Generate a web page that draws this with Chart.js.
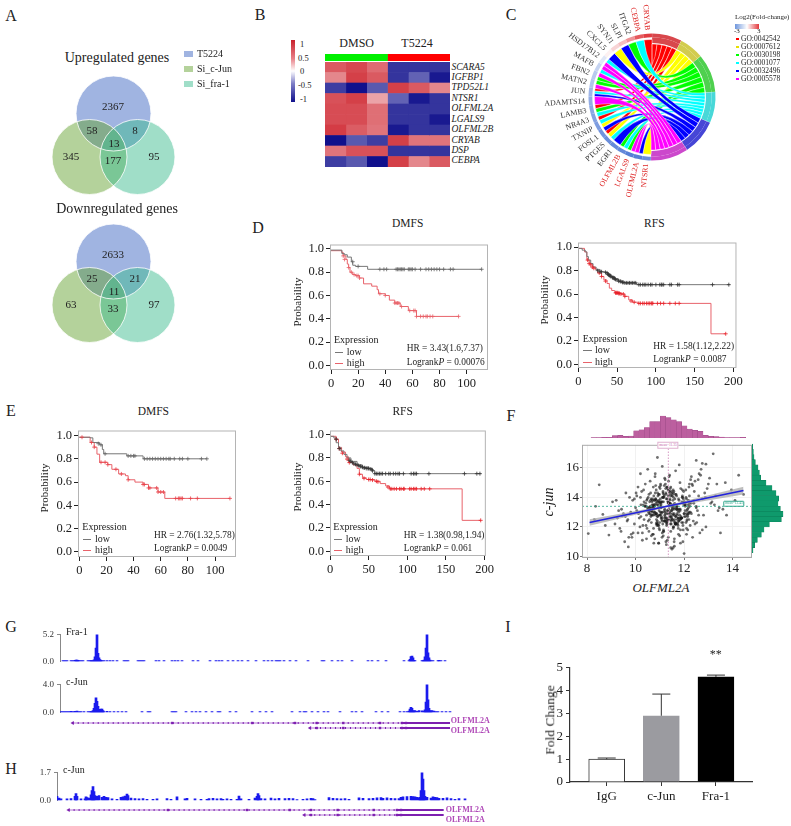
<!DOCTYPE html>
<html>
<head>
<meta charset="utf-8">
<script src="https://cdn.jsdelivr.net/npm/chart.js@4"></script>
<style>
html,body{margin:0;background:#fff}
#page{position:relative;width:791px;height:826px;overflow:hidden;font-family:"Liberation Serif",serif;color:#222}
canvas{position:absolute}
.t{position:absolute;white-space:nowrap;line-height:1}
.s{position:absolute}
</style>
</head>
<body>
<div id="page"></div>
<script>
// A - venn counts
const vennSets = ['T5224', 'Si_c-Jun', 'Si_fra-1'];
const upCounts = [2367, 58, 8, 13, 345, 177, 95];
const downCounts = [2633, 25, 21, 11, 63, 33, 97];

// B - heatmap
const genes = ['SCARA5','IGFBP1','TPD52L1','NTSR1','OLFML2A','LGALS9','OLFML2B','CRYAB','DSP','CEBPA'];
const heatCols = [
  [.8,.55,-.9,.85,.88,.88,.97,-1.15,.65,-.9],
  [.9,.95,-1.15,.95,.88,.88,.78,-.75,.85,-.75],
  [.7,.8,-.75,.4,.68,.68,.65,-.9,.85,-1.15],
  [-.95,-.95,.95,-.7,-.95,-.95,-1.1,.95,-.95,.95],
  [-.95,-.7,.8,-1.1,-.95,-.95,-.95,.65,-.95,.55],
  [-.95,-1.1,.55,-.95,-.95,-1.1,-.95,.65,-.95,.8]
];

// C - chord
const goTerms = ['GO:0042542','GO:0007612','GO:0030198','GO:0001077','GO:0032496','GO:0005578'];
const goBright = ['#ff0000','#ffff00','#00ff00','#00ffff','#0000ff','#ff00ff'];
const goDark = ['#d8474c','#d2cc4e','#4fd04f','#48d8d8','#4646d6','#cc48cc'];
const goArc = [27,22,35,28,32,34];
const chordGenes = ['NTSR1','OLFML2A','LGALS9','OLFML2B','EGR1','PTGES','FOSL1','TXNIP','NR4A3','LAMB3','ADAMTS14','JUN','MATN2','FBN2','MAFB','HSD17B12','CXCL5','SYNJ1','SLPI','ITGA2','CEBPA','CRYAB'];
const chordFC = [-2.3,-2.6,-2.6,-2.4,-2.4,-2.3,-2.2,-2,-1.9,-1.8,-1.7,-1.5,-1.2,-1.1,-.9,-.5,.2,.6,.9,1.5,2.3,2.7];
const chordLinks = [[1],[4,5],[5,2],[3,2],[4],[3,1],[0,4],[1,3],[0,3],[2,0],[5],[4,3,0],[5,2],[2,5],[3,5],[5,3],[4],[1],[4],[2],[3],[0]];
const chordRed = ['NTSR1','OLFML2A','LGALS9','OLFML2B','CEBPA','CRYAB'];

// D/E - survival curves
const ticks20 = [0,20,40,60,80,100];
const ticks50 = [0,50,100,150,200];
const probTicks = [0,.2,.4,.6,.8,1];
const d1LowX = [0,8,10,12,15,16,18,27,111];
const d1LowY = [.99,.96,.95,.93,.89,.86,.85,.825,.825];
const d1HighX = [0,8,9,11,12,13,14,16,18,21,24,30,34,35,40,43,47,51,57,63,94];
const d1HighY = [.985,.97,.94,.91,.87,.84,.8,.78,.77,.75,.7,.68,.65,.615,.6,.56,.535,.505,.47,.42,.42];
const d1LowCX = [16,20,36,39,41,48,49,50,51,52,53,54,57,58,59,60,62,66,70,72,74,76,78,80,83,88,90,111];
const d1LowCY = [.89,.85,.825,.825,.825,.825,.825,.825,.825,.825,.825,.825,.825,.825,.825,.825,.825,.825,.825,.825,.825,.825,.825,.825,.825,.825,.825,.825];
const d1HighCX = [9,10,13,15,17,19,20,21,36,40,47,48,49,50,52,58,61,62,63,66,68,70,71,73,75,94];
const d1HighCY = [.94,.91,.84,.8,.78,.77,.77,.75,.615,.6,.535,.535,.535,.535,.505,.47,.47,.47,.42,.42,.42,.42,.42,.42,.42,.42];

const d2LowX = [0,5,9,11,13,16,19,23,28,35,38,42,47,52,57,60,75,195];
const d2LowY = [.99,.975,.96,.92,.89,.86,.83,.81,.79,.785,.77,.75,.73,.71,.7,.695,.68,.68];
const d2HighX = [0,8,11,14,18,22,25,30,33,37,40,43,47,55,60,65,70,77,171,171,190];
const d2HighY = [.99,.96,.89,.86,.83,.81,.78,.75,.72,.69,.65,.63,.61,.6,.58,.55,.53,.52,.52,.26,.26];
const d2LowCX = [25,28,30,35,37,38,39,40,41,42,44,45,46,47,48,50,52,54,55,57,58,60,62,64,66,68,70,72,74,78,80,83,85,87,90,93,95,100,105,107,108,110,118,120,128,130,173,194];
const d2LowCY = [.8,.79,.79,.785,.78,.77,.765,.76,.755,.75,.74,.74,.735,.73,.725,.72,.71,.71,.705,.7,.7,.695,.695,.695,.695,.695,.695,.695,.695,.68,.68,.68,.68,.68,.68,.68,.68,.68,.68,.68,.68,.68,.68,.68,.68,.68,.68,.68];
const d2HighCX = [12,14,16,18,20,27,30,35,48,49,50,51,52,53,55,58,60,68,72,78,80,83,85,88,90,92,94,95,96,102,106,110,118,125,130,190];
const d2HighCY = [.89,.86,.85,.83,.82,.78,.75,.71,.61,.61,.61,.61,.605,.605,.6,.6,.58,.54,.53,.52,.52,.52,.52,.52,.52,.52,.52,.52,.52,.52,.52,.52,.52,.52,.52,.26];

const e1LowX = [0,8,10,15,17,18,35,47,94];
const e1LowY = [.985,.98,.94,.92,.88,.843,.825,.8,.8];
const e1HighX = [0,8,11,13,15,21,24,29,34,36,41,47,51,58,63,111];
const e1HighY = [.985,.94,.9,.84,.77,.75,.71,.67,.655,.62,.6,.58,.55,.515,.46,.46];
const e1LowCX = [14,16,19,36,38,40,41,48,50,52,54,56,58,60,62,64,66,67,70,74,76,80,90,94];
const e1LowCY = [.93,.92,.843,.825,.825,.825,.825,.8,.8,.8,.8,.8,.8,.8,.8,.8,.8,.8,.8,.8,.8,.8,.8,.8];
const e1HighCX = [2,9,11,16,19,21,27,31,36,47,48,51,52,57,58,60,62,71,73,74,75,76,82,87,111];
const e1HighCY = [.985,.94,.9,.77,.77,.75,.71,.67,.62,.58,.58,.55,.55,.55,.515,.515,.515,.46,.46,.46,.46,.46,.46,.46,.46];

const e2LowX = [0,5,8,11,14,18,22,27,35,42,50,55,58,195];
const e2LowY = [.985,.97,.93,.89,.86,.83,.8,.77,.74,.72,.71,.69,.665,.665];
const e2HighX = [0,8,11,15,20,24,30,35,38,42,47,58,65,72,77,171,171,195];
const e2HighY = [.985,.96,.89,.85,.81,.76,.74,.71,.66,.63,.615,.6,.58,.56,.535,.535,.265,.265];
const e2LowCX = [8,12,25,27,29,31,33,35,37,39,40,42,44,45,47,49,50,52,54,55,58,60,62,64,66,68,72,76,78,82,85,88,90,95,105,108,110,112,128,174,190,194];
const e2LowCY = [.96,.88,.78,.77,.76,.75,.745,.74,.735,.73,.725,.72,.715,.715,.71,.71,.71,.705,.7,.69,.665,.665,.665,.665,.665,.665,.665,.665,.665,.665,.665,.665,.665,.665,.665,.665,.665,.665,.665,.665,.665,.665];
const e2HighCX = [8,12,16,22,25,38,44,50,52,55,60,62,75,78,80,83,86,90,92,95,96,103,105,108,110,112,118,122,129,195];
const e2HighCY = [.96,.88,.84,.79,.76,.66,.625,.615,.615,.61,.6,.595,.55,.535,.535,.535,.535,.535,.535,.535,.535,.535,.535,.535,.535,.535,.535,.535,.535,.265];

// F - scatter, read by eye (thinned from the dense cloud)
const olfml2a = [
8.05,8.35,8.5,8.9,9.15,9.2,9.7,9.55,9.3,9.05,8.65,8.3,8.75,9.4,9.45,9.6,9.75,9.85,9.95,9.25,
10.9,13.2,14.25,14.45,12,11.5,11.6,13.5,10.2,10.5,11.1,11.8,12.5,12.75,12.9,13.05,13.35,13.7,13.95,14.1,
10.1,10.3,10.25,10.45,10.05,10.6,10.35,10.15,10.55,10.4,10.7,10.2,10.5,10.65,10.12,10.32,10.75,10.62,10.47,10.8,
12.3,12.45,12.62,12.2,12.85,12.55,12.38,12.7,13.1,12.95,12.25,12.6,12.8,13.25,12.15,12.5,13,12.35,12.75,13.4,
11.2,11.65,10.95,11.4,11.85,11.05,12.1,10.85,11.55,11.95,11.3,10.75,12.05,11.75,11.15,11.45,10.9,11.7,12,11.25,
10.82,11.38,11.92,10.66,11.12,11.58,12.18,10.97,11.47,11.03,11.78,10.72,11.33,11.88,12.08,10.58,11.22,11.62,10.88,11.52,
11.08,11.42,10.78,11.68,11.18,10.52,11.98,11.28,10.92,11.82,11.48,10.68,11.36,12.02,11.02,11.72,10.84,11.56,11.16,12.12,
10.44,11.26,11.64,10.94,11.44,12.22,10.74,11.34,11.84,11.06,11.54,10.64,11.94,11.14,10.86,11.74,11.24,10.54,12.16,11.4,
11.32,10.98,11.5,11.1,10.8,11.66,12.04,11.2,10.7,11.86,11.46,10.9,11.6,11.3,12.14,11,10.6,11.76,11.37,11.9,
10.76,11.19,11.53,11.91,10.99,11.39,12.06,10.83,11.29,11.69,11.09,10.63,11.49,11.79,12.19,10.93,11.23,11.59,11.01,11.43,
11.13,10.87,11.63,11.35,12.24,10.73,11.21,11.83,11.05,11.57,10.95,11.41,12.01,10.67,11.31,11.71,11.17,10.81,11.51,11.97,
12.28,10.57,11.27,11.67,11.07,11.45,12.11,10.89,11.33,11.77,11.03,10.71,11.55,11.93,11.19,10.79,11.47,11.61,12.09,10.97,
9.5,9.9,10,9.65,9.8,10.1,9.35,9.95,10.22,9.72,10.05,9.58,10.28,9.88,9.42,10.18,9.68,10.02,9.82,10.38,
11.25,11.75,10.65,12.2,11.55,10.95,13.15,12.65,11.35,13.3,12.45,10.55,11.85,12.9,11.05,13.6,12.3,10.45,11.65,12.75,
11.15,11.95,10.85,12.4,11.45,13.75,10.75,12.1,11.28,12.58,10.42,11.82,13.45,11.02,12.22,11.62,10.68,12.88,11.38,12.52,
10.93,11.31,11.77,10.61,11.52,11.09,12.03,11.44,10.78,11.66,11.22,10.86,11.98,11.36,10.69,11.58,12.13,11.14,11.84,10.96,
11.41,10.74,11.27,11.73,11.04,12.07,10.84,11.49,11.18,11.91,10.59,11.63,11.34,10.91,11.79,11.11,12.17,11.54,10.77,11.24,
11.69,10.88,11.46,11.01,11.87,10.66,11.3,11.56,12.05,10.99,11.38,11.75,10.82,11.16,11.95,11.6,10.72,11.43,11.08,12.21,
10.49,11.35,11.81,10.92,11.2,11.65,10.8,12,11.52,11.13,10.63,11.71,11.29,10.98,11.88,11.42,10.76,12.1,11.06,11.57,
11.23,10.56,11.48,11.89,11.03,10.83,11.67,11.33,12.15,10.7,11.12,11.78,10.94,11.5,11.96,10.6,11.26,11.62,11.0,12.26,
10.52,10.9,11.37,11.85,10.68,11.19,11.59,12.02,10.85,11.44,11.1,11.72,10.97,11.32,10.75,11.93,11.55,10.64,11.25,11.68,
12.12,10.81,11.4,11.07,11.8,10.46,11.15,11.53,10.89,12.08,11.28,11.74,10.73,11.47,11.02,11.9,10.58,11.36,11.64,10.95,
12.35,12.18,12.42,12.27,12.5,12.33,12.6,12.22,12.68,12.4,10.35,10.48,10.22,10.55,10.4,10.28,10.6,10.5,10.33,10.43,
11.21,11.61,10.87,11.39,11.83,11.05,10.69,11.51,11.99,11.17,10.79,11.73,11.3,10.91,12.04,11.45,11.11,11.58,10.62,11.86
];
const cjun = [
11.55,13.4,14.85,11.45,12.2,13.8,10.65,11,13.1,13.7,12.85,12.5,12.1,11.7,12.75,14.3,14,11.3,13.9,12.6,
16.7,16.95,15.5,14.2,10.2,10.5,10.7,11.6,15.6,15.9,16.1,16.2,16.5,16.3,16.25,15.3,14.9,15,14.5,13.8,
11.6,12.1,14.4,11.2,13.1,15.1,13.7,12.6,12.9,14.9,11.5,14,13.3,12.3,12.9,13.5,10.9,14.3,11.9,15.4,
15.4,15.1,15.6,14.7,14.3,13.1,12.4,15.9,13.6,14.6,12.1,14.1,12.8,13.5,11.8,13.3,14.9,11.3,13.9,13.1,
13.2,12.7,13.8,14.2,12.5,13.5,13.9,12.9,14.5,12.3,13.1,14.1,13.4,12.6,13.7,14.7,12.4,13.3,12.9,14.3,
12.8,13.6,14,13.2,12.2,14.4,13.3,13.7,12.7,14.9,13,13.5,14.6,12.6,12.3,13.1,15.2,13.9,12.1,13.4,
12.6,13.9,12.9,13.2,14.8,12.4,13.5,12.1,14.1,12.8,14.4,13.3,15.1,13.7,13,12.5,13.6,14.3,11.7,13.1,
13.4,12.3,14.2,13.7,12.7,13.6,11.9,14.5,13.1,12.9,13.8,12.8,14,11.4,12.5,13.2,14.6,13,12.9,15.5,
12.4,14.2,13.3,11.6,13,12.7,13.5,15.3,13.8,12.6,14.1,12.2,11.2,14.7,13.2,12.8,13.4,11.9,13.6,12.3,
13.5,13.1,12.5,13.7,11.8,14.4,12.7,13.9,12.2,14.1,11.3,13.2,12.6,13.8,12.9,12.1,14.9,11,12.8,14.6,
14.3,12.9,12.2,13.6,13.4,11.5,12.4,15,13.3,12,10.9,13.8,12.7,13.1,11.1,12.9,14,15.6,12.5,13.9,
13.6,12.5,10.8,14.2,13,11.7,12.4,12.2,13.7,11.5,14.8,13.3,10.6,14.5,12.6,11.2,13.1,12.8,12.9,11.9,
12.9,11.6,13.3,12.4,13,14.7,11.9,12.2,13.5,11.3,14.1,12.7,11.1,13.8,13.2,12,12.5,14.3,11.5,13.4,
11,12.1,11.4,12.5,11.9,10.9,13.7,11.6,11.3,14.1,12.2,11.7,10.9,12,12.6,13.2,12.9,12.8,15.8,11.8,
11.8,11,12.2,13.8,10.6,12.8,13.2,11.5,14.7,15.2,13.6,11.4,13.3,13.9,14.9,12.3,13.7,14,15.4,12.3,
13.3,12.6,13.9,13.1,14.2,12.4,13.6,12.9,13.4,12.2,12.7,13.8,14.4,12.5,13,13.5,12.8,14,13.2,12.1,
12.7,13.4,13.9,12.3,13.6,14.5,12.9,13.1,14.1,12.6,13.3,12.2,13.7,14.3,12.4,13,13.5,12.8,13.8,12.5,
13.2,13.7,12.4,14.6,12.7,13.1,12.9,14,13.5,12.3,13.4,12.6,13.9,14.2,12.1,13.3,12.8,13.6,12.5,13,
13.1,14.1,12.5,13.5,12.8,12.2,13.8,12.9,13.2,14.4,12.7,13.4,12.3,14.7,12.6,13.6,13,11.9,13.7,12.4,
12.9,13.3,14.3,12.6,13.7,14.8,12.2,13.1,12.7,13.9,14,12.4,12.8,13.5,11.8,13.2,14.2,12.5,13.6,13,
14,12.7,13.2,11.8,13.5,12.4,12.9,13.6,14.5,12.2,13.7,12.8,13.1,12.5,13.3,14.1,12,13.9,12.6,13.4,
12.5,14.3,13,12.7,13.2,13.8,11.7,12.9,13.5,14,12.4,13.1,14.7,12.2,13.4,12.6,13.7,12.9,12.3,14.2,
14.8,13.8,14.4,15.2,13.4,14.9,12.8,14.1,15.5,13.6,12.5,13.9,12.7,14.2,13.4,11.6,12.9,13.2,14.5,12.1,
13,13.6,12.3,14.4,12.6,13.3,12.8,14.1,13.7,12.4,13.5,12.2,13.9,12.7,13.1,12.5,14,13.2,13.8,14.6
];
const topBinX = [8.27,8.49,8.71,8.93,9.15,9.37,9.59,9.81,10.03,10.25,10.47,10.69,10.91,11.13,11.35,11.57,11.79,12.01,12.23,12.45,12.67,12.89,13.11,13.33,13.55,13.77,13.99,14.21,14.43];
const topBinN = [1,1,2,2,7,8,5,6,22,25,32,50,50,67,62,55,50,37,27,23,20,8,5,4,3,1,1,1,2];
const sideBinY = [17,16.67,16.34,16.01,15.68,15.35,15.02,14.69,14.36,14.03,13.7,13.37,13.04,12.71,12.38,12.05,11.72,11.39,11.06,10.73,10.4];
const sideBinN = [2,4,6,10,18,22,26,42,60,72,80,78,85,93,88,52,36,28,16,8,3];
const fitX = [8.1,11.3,14.45];
const fitY = [12.3,13.4,14.47];
const fitLo = [12.08,13.33,14.2];
const fitHi = [12.52,13.47,14.72];

// G/H - coverage tracks
const fra1X = [3,5,7,11,13,15,16,17,18,19,21,23,28,30,31,32,33,34,35,36,37,38,39,40,41,42,44,47,50,53,57,64,66,68,78,80,82,84,96,99,104,112,115,118,122,133,138,150,156,159,162,168,173,178,182,188,196,204,208,212,216,218,220,224,230,236,248,262,264,272,278,282,292,308,312,318,326,344,349,350,351,352,353,354,355,362,363,364,365,366,367,368,369,370,371,373,378,379,381,385];
const fra1Y = [.08,.1,.08,.1,.15,.25,.3,.3,.25,.15,.1,.08,.1,.12,.1,.15,.2,.35,.9,2.6,5.2,1.6,.7,.4,.25,.15,.1,.12,.1,.08,.08,.1,.18,.08,.06,.08,.08,.06,.08,.06,.08,.06,.06,.08,.06,.08,.06,.08,.1,.12,.06,.06,.1,.06,.08,.06,.05,.08,.06,.08,.12,.14,.1,.06,.06,.05,.06,.12,.06,.05,.06,.08,.1,.06,.06,.08,.06,.06,.1,.45,.95,1.05,.7,.25,.2,.1,.15,.3,.9,2.6,5.2,1.7,.7,.3,.2,.1,.2,.22,.1,.06];
const cjunX = [1,3,5,7,9,11,13,15,17,19,21,24,28,30,31,32,33,34,35,36,37,38,39,40,41,42,43,44,47,50,54,58,62,66,82,88,90,112,114,116,126,132,136,140,146,152,158,160,170,176,192,200,206,212,232,240,244,246,252,258,264,268,280,292,296,302,316,322,328,340,344,347,349,350,351,352,353,354,355,357,359,362,364,365,366,367,368,369,370,371,372,374,376,378,382,386,390];
const cjunY = [.1,.1,.12,.1,.15,.18,.15,.18,.2,.15,.08,.06,.08,.1,.1,.15,.3,.6,1.3,2.1,1.6,.9,.45,.4,.5,.5,.3,.1,.18,.1,.12,.15,.12,.08,.06,.08,.06,.1,.06,.08,.06,.1,.12,.14,.1,.06,.08,.12,.06,.06,.08,.1,.1,.06,.08,.06,.1,.1,.1,.08,.06,.06,.06,.08,.12,.1,.06,.08,.06,.08,.12,.15,.2,.5,.75,.6,.3,.2,.3,.18,.3,.25,.2,.4,1.5,4,1.8,.6,.3,.2,.3,.2,.12,.1,.08,.08,.06];
const h1X = [0,2,4,10,14,18,19,20,24,28,29,30,32,34,35,36,37,38,40,42,45,47,49,51,55,60,64,66,68,70,71,74,78,82,86,90,96,100,110,114,120,128,130,138,144,150,152,156,160,164,166,170,174,180,182,184,192,198,200,201,202,204,208,214,218,222,228,232,236,240,246,250,254,256,258,272,276,280,284,288,292,302,306,312,316,320,324,326,330,334,338,342,344,346,350,354,356,358,360,362,363,364,365,366,367,368,370,374,376,378,380,382,386,390,394,398,402,408];
const h1Y = [.25,.15,.1,.1,.12,.25,.42,.25,.1,.1,.22,.18,.15,.35,.6,.85,.55,.3,.25,.3,.2,.25,.2,.18,.1,.08,.2,.22,.28,.4,.3,.15,.12,.1,.12,.08,.08,.1,.12,.08,.22,.1,.14,.1,.08,.08,.12,.14,.1,.12,.08,.1,.08,.08,.28,.1,.08,.15,.25,.42,.3,.12,.1,.15,.1,.14,.12,.14,.12,.06,.08,.1,.14,.12,.06,.18,.14,.12,.1,.12,.08,.16,.14,.12,.14,.16,.18,.14,.16,.14,.12,.12,.2,.22,.24,.26,.24,.22,.2,.16,.2,.6,1.7,1.3,.6,.25,.2,.15,.22,.2,.18,.14,.14,.16,.12,.08,.12,.1];
const gGene1 = [12.7,390];
const gGene2 = [250,390];
const gUtr = [341.7,390];
const gExons1 = [112.3,192.3,235,256.7,283.3,320,342,346];
const gExons2 = [256.7,283.3,320,342,346];
const hGene1 = [11.6,386.6];
const hGene2 = [247.3,386.6];
const hUtr = [340,386.6];
const hExons1 = [111,190,232.7,254,280.7,316.7,340,344];
const hExons2 = [254,280.7,316.7,340,344];

// I - bars
const barLabels = ['IgG','c-Jun','Fra-1'];
const barValues = [1,2.9,4.6];
const barUpper = [1.05,3.85,4.68];

const page = document.getElementById('page');
const SERIF = '"Liberation Serif", serif';

function lab(x, y, html, size, o) {
  o = o || {};
  const d = document.createElement('div');
  d.className = 't';
  d.innerHTML = html;
  d.style.left = x + 'px';
  d.style.top = y + 'px';
  d.style.fontSize = size + 'px';
  if (o.color) d.style.color = o.color;
  if (o.italic) d.style.fontStyle = 'italic';
  if (o.bold) d.style.fontWeight = 'bold';
  if (o.css) d.style.cssText += o.css;
  let tx = o.align == 'center' ? '-50%' : (o.align == 'right' ? '-100%' : '0');
  d.style.transform = 'translate(' + tx + ',-50%)' + (o.rot ? ' rotate(' + o.rot + 'deg)' : '');
  page.appendChild(d);
}
function swatch(x, y, w, h, bg) {
  const d = document.createElement('div');
  d.className = 's';
  d.style.cssText += 'left:' + x + 'px;top:' + y + 'px;width:' + w + 'px;height:' + h + 'px;background:' + bg;
  page.appendChild(d);
}
const zip = (xs, ys) => xs.map((x, i) => ({x: x, y: ys[i]}));

// puts the plot area of a chart on exact page pixels
function plot(x0, y0, x1, y1, m, cfg) {
  x0 = Math.round(x0); y0 = Math.round(y0); x1 = Math.round(x1); y1 = Math.round(y1);
  const c = document.createElement('canvas');
  c.width = x1 - x0 + m.l + m.r;
  c.height = y1 - y0 + m.t + m.b;
  c.style.left = (x0 - m.l) + 'px';
  c.style.top = (y0 - m.t) + 'px';
  page.appendChild(c);
  const op = cfg.options = cfg.options || {};
  const sc = op.scales = op.scales || {};
  const showX = sc.x && sc.x.display !== false, showY = sc.y && sc.y.display !== false;
  if (showX) sc.x.afterFit = s => { s.height = m.b; };
  if (showY) sc.y.afterFit = s => { s.width = m.l; };
  op.responsive = false;
  op.animation = false;
  op.devicePixelRatio = 1;
  op.layout = {autoPadding: false, padding: {top: m.t, right: m.r, left: showY ? 0 : m.l, bottom: showX ? 0 : m.b}};
  op.plugins = Object.assign({legend: {display: false}, tooltip: {enabled: false}}, op.plugins || {});
  return new Chart(c.getContext('2d'), cfg);
}
function axis(min, max, tickVals, fmt, size) {
  return {type: 'linear', min: min, max: max,
    grid: {drawOnChartArea: false, color: '#222', tickLength: 4},
    border: {display: false},
    afterBuildTicks: s => { s.ticks = tickVals.map(v => ({value: v})); },
    ticks: {color: '#222', autoSkip: false, maxRotation: 0, padding: 2,
      font: {family: SERIF, size: size}, callback: fmt}};
}
const frame = color => ({id: 'frame', afterDatasetsDraw(ch) {
  const a = ch.chartArea, ctx = ch.ctx;
  ctx.save();
  ctx.strokeStyle = color;
  ctx.lineWidth = 1;
  ctx.strokeRect(a.left + .5, a.top + .5, a.width - 1, a.height - 1);
  ctx.restore();
}});

/* ---------- panel letters ---------- */
[['A',11,16],['B',260,15],['C',511,15],['D',258,228],['E',11,411],['F',511,416],['G',11,627],['H',11,769],['I',508,627]]
  .forEach(p => lab(p[1], p[2], p[0], 16, {align: 'center'}));

/* ---------- A venn ---------- */
const vennFill = ['rgba(65,105,195,.5)', 'rgba(105,165,55,.5)', 'rgba(65,189,145,.5)'];
const vennKey = ['#a0b4e1', '#b4d29b', '#a0dec8'];
function venn(top, title, titleY, counts) {
  // centres in a 200x130 unit space, one unit is one page pixel
  const centres = [{x: 113.5, y: 37.5}, {x: 89.5, y: 81}, {x: 137.5, y: 81}];
  plot(0, top, 200, top + 130, {l: 0, r: 0, t: 0, b: 0}, {
    type: 'scatter',
    data: {datasets: [
      {data: centres, pointRadius: 37.5, pointBackgroundColor: 'rgba(0,0,0,0)', pointBorderColor: 'rgba(255,255,255,.8)', pointBorderWidth: 1},
      {data: [centres[2]], pointRadius: 37.5, pointBackgroundColor: vennFill[2], pointBorderWidth: 0},
      {data: [centres[1]], pointRadius: 37.5, pointBackgroundColor: vennFill[1], pointBorderWidth: 0},
      {data: [centres[0]], pointRadius: 37.5, pointBackgroundColor: vennFill[0], pointBorderWidth: 0}
    ]},
    options: {scales: {x: {display: false, min: 0, max: 200}, y: {display: false, min: 0, max: 130, reverse: true}}}
  });
  lab(117, titleY, title, 14, {align: 'center'});
  const spots = [[113,30],[92,54],[135,54],[114,67],[71,80],[113,84],[154,80]];
  counts.forEach((n, i) => lab(spots[i][0], top + spots[i][1], n, 11, {align: 'center'}));
}
venn(76, 'Upregulated genes', 58, upCounts);
venn(224, 'Downregulated genes', 209, downCounts);
vennSets.forEach((s, i) => {
  swatch(184, 51 + i * 15, 9, 6, vennKey[i]);
  lab(197, 54 + i * 15, s, 10);
});

/* ---------- B heatmap ---------- */
function heatColor(z) {
  const k = Math.min(Math.abs(z) / 1.15, 1);
  const end = z > 0 ? [205, 30, 40] : [16, 16, 140];
  const c = end.map(e => Math.round(255 + (e - 255) * Math.pow(k, .85)));
  return 'rgb(' + c.join(',') + ')';
}
plot(325, 62, 450, 167, {l: 0, r: 0, t: 0, b: 0}, {
  type: 'bar',
  data: {labels: genes, datasets: heatCols.map(col => ({
    data: col.map(() => 1),
    backgroundColor: col.map(heatColor),
    barPercentage: 1, categoryPercentage: 1, stack: 's'
  }))},
  options: {indexAxis: 'y', scales: {x: {display: false, stacked: true, min: 0, max: 6}, y: {display: false, stacked: true}}}
});
plot(325, 54, 450, 61, {l: 0, r: 0, t: 0, b: 0}, {
  type: 'bar',
  data: {labels: ['group'], datasets: [
    {data: [3], backgroundColor: '#00f000', barPercentage: 1, categoryPercentage: 1},
    {data: [3], backgroundColor: '#ff0000', barPercentage: 1, categoryPercentage: 1}
  ]},
  options: {indexAxis: 'y', scales: {x: {display: false, stacked: true, min: 0, max: 6}, y: {display: false, stacked: true}}}
});
genes.forEach((g, i) => lab(451.5, 67.5 + i * 10.43, g, 9.5, {italic: true}));
lab(356.7, 43, 'DMSO', 12, {align: 'center'});
lab(417, 43, 'T5224', 12, {align: 'center'});
swatch(291, 40, 4, 62, 'linear-gradient(#c8202c,#e88088 30%,#fff 50%,#8080c8 70%,#10108c)');
[['1',44],['0.5',58],['0',71],['-0.5',85],['-1',99]].forEach(t => lab(t[0].length > 2 ? 298 : 300, t[1], t[0], 8.5));

/* ---------- C chord ---------- */
function fcColor(v) {
  const k = Math.min(Math.abs(v) / 3, 1);
  const end = v > 0 ? [222, 38, 44] : [62, 108, 208];
  return 'rgb(' + end.map(e => Math.round(255 + (e - 255) * k)).join(',') + ')';
}
const chordPlugin = {id: 'chord', afterDatasetsDraw(ch) {
  const ctx = ch.ctx, arcs = ch.getDatasetMeta(0).data;
  const cx = arcs[0].x, cy = arcs[0].y;
  const rGo = 53, rGene = 57.5;
  const pts = (r, a) => [cx + r * Math.cos(a), cy + r * Math.sin(a)];
  goTerms.forEach((go, i) => {
    const arcG = arcs[i];
    const list = [];
    chordLinks.forEach((l, g) => { if (l.includes(i)) list.push(g); });
    list.reverse();
    const w = (arcG.endAngle - arcG.startAngle) / list.length;
    list.forEach((g, k) => {
      const a0 = arcG.startAngle + k * w, a1 = a0 + w;
      const ag = arcs[6 + g], n = chordLinks[g].length, sl = chordLinks[g].indexOf(i);
      const gw = (ag.endAngle - ag.startAngle) / n;
      const b0 = ag.startAngle + sl * gw, b1 = b0 + gw;
      ctx.beginPath();
      ctx.moveTo(...pts(rGo, a0));
      ctx.arc(cx, cy, rGo, a0, a1);
      ctx.quadraticCurveTo(cx, cy, ...pts(rGene, b0));
      ctx.arc(cx, cy, rGene, b0, b1);
      ctx.quadraticCurveTo(cx, cy, ...pts(rGo, a0));
      ctx.closePath();
      ctx.fillStyle = goBright[i];
      ctx.fill();
      ctx.strokeStyle = 'rgba(255,255,255,.8)';
      ctx.lineWidth = .5;
      ctx.stroke();
    });
  });
  ctx.font = '7.8px ' + SERIF;
  ctx.textAlign = 'right';
  ctx.textBaseline = 'middle';
  chordGenes.forEach((g, i) => {
    const a = arcs[6 + i], mid = (a.startAngle + a.endAngle) / 2;
    ctx.save();
    ctx.translate(cx + 67 * Math.cos(mid), cy + 67 * Math.sin(mid));
    ctx.rotate(mid + Math.PI);
    ctx.fillStyle = chordRed.includes(g) ? '#d22' : '#333';
    ctx.fillText(g, 0, 0);
    ctx.restore();
  });
}};
{
  const geneArc = chordGenes.map(() => 8);
  const clear = chordGenes.map(() => 'rgba(0,0,0,0)');
  plot(652 - 63, 97 - 63, 652 + 63, 97 + 63, {l: 50, r: 50, t: 50, b: 50}, {
    type: 'doughnut',
    data: {labels: goTerms.concat(chordGenes), datasets: [
      {data: goArc.concat(geneArc), backgroundColor: goDark.concat(chordFC.map(fcColor)), borderWidth: 0, weight: 4},
      {data: goArc.concat(geneArc), backgroundColor: goDark.concat(clear), borderWidth: 0, weight: 6}
    ]},
    options: {radius: 63, cutout: 53, spacing: 1},
    plugins: [chordPlugin]
  });
}
lab(735, 17, 'Log2(Fold-change)', 7);
swatch(735, 24, 24, 5, 'linear-gradient(90deg,#6f96dc,#fff 50%,#e2383c)');
lab(734, 31, '-3', 7);
lab(757, 31, '3', 7);
goTerms.forEach((g, i) => {
  swatch(735.5, 37.5 + i * 8.05, 3, 2.5, goBright[i] == '#ffff00' ? '#e6e000' : goBright[i]);
  lab(741, 39 + i * 8.05, g, 7.5);
});

/* ---------- D/E survival ---------- */
function km(b, cal, tickVals, d, txt) {
  const ux = (cal.x[1] - cal.x[0]) / cal.xv, uy = (cal.y[0] - cal.y[1]);
  const xMin = (b[0] - cal.x[0]) / ux, xMax = (b[2] - cal.x[0]) / ux;
  const yMin = (cal.y[0] - b[3]) / uy, yMax = (cal.y[0] - b[1]) / uy;
  const low = '#777', high = '#e8626a';
  plot(b[0], b[1], b[2], b[3], {l: 32, r: 8, t: 2, b: 20}, {
    type: 'line',
    data: {datasets: [
      {data: zip(d.lowCX, d.lowCY), showLine: false, pointStyle: 'cross', pointRadius: 2, pointBorderColor: d.lowMark, pointBorderWidth: .8},
      {data: zip(d.highCX, d.highCY), showLine: false, pointStyle: 'cross', pointRadius: 2, pointBorderColor: d.highMark, pointBorderWidth: .8},
      {data: zip(d.lowX, d.lowY), stepped: true, borderColor: low, borderWidth: 1, pointRadius: 0},
      {data: zip(d.highX, d.highY), stepped: true, borderColor: high, borderWidth: 1, pointRadius: 0}
    ]},
    options: {scales: {
      x: axis(xMin, xMax, tickVals, v => v, 12.5),
      y: axis(yMin, yMax, probTicks, v => Number(v).toFixed(1), 12.5)
    }},
    plugins: [frame('#b4b4b4')]
  });
  lab(txt.tx, txt.ty, txt.title, 11.5, {align: 'center'});
  lab(txt.px, txt.py, 'Probability', 11, {align: 'center', rot: -90});
  lab(txt.ex, txt.ey, 'Expression', 10);
  swatch(txt.ex + .5, txt.ly, 8.5, 1, low);
  swatch(txt.ex + .5, txt.hy, 8.5, 1, high);
  lab(txt.lx, txt.ly, 'low', 10);
  lab(txt.lx, txt.hy, 'high', 10);
  lab(txt.rx, txt.r1, txt.hr, 9.4);
  lab(txt.rx, txt.r2, txt.p, 9.4);
}
km([330,237,488,370], {x: [331,466.7], xv: 100, y: [365,241.7]}, ticks20,
  {lowX: d1LowX, lowY: d1LowY, highX: d1HighX, highY: d1HighY, lowCX: d1LowCX, lowCY: d1LowCY, highCX: d1HighCX, highCY: d1HighCY, lowMark: '#666', highMark: '#e8626a'},
  {title: 'DMFS', tx: 407.7, ty: 224, px: 296.7, py: 301.7, ex: 334, ey: 340, lx: 346.7, ly: 351.7, hy: 363, rx: 406.7, r1: 349, r2: 362.7, hr: 'HR = 3.43(1.6,7.37)', p: 'Logrank<i>P</i> = 0.00076'});
km([578,235,737,368], {x: [578.3,734], xv: 200, y: [364,240]}, ticks50,
  {lowX: d2LowX, lowY: d2LowY, highX: d2HighX, highY: d2HighY, lowCX: d2LowCX, lowCY: d2LowCY, highCX: d2HighCX, highCY: d2HighCY, lowMark: '#333', highMark: '#e8222a'},
  {title: 'RFS', tx: 654.3, ty: 224, px: 544.3, py: 300, ex: 582.7, ey: 339, lx: 595, ly: 350, hy: 362, rx: 653.3, r1: 347.3, r2: 360, hr: 'HR = 1.58(1.12,2.22)', p: 'Logrank<i>P</i> = 0.0087'});
km([78,423,236,557], {x: [79.3,215], xv: 100, y: [551.7,428.3]}, ticks20,
  {lowX: e1LowX, lowY: e1LowY, highX: e1HighX, highY: e1HighY, lowCX: e1LowCX, lowCY: e1LowCY, highCX: e1HighCX, highCY: e1HighCY, lowMark: '#666', highMark: '#e8424a'},
  {title: 'DMFS', tx: 153.3, ty: 412, px: 44, py: 488.3, ex: 82.3, ey: 527, lx: 95, ly: 538.7, hy: 550.3, rx: 154, r1: 536, r2: 549.3, hr: 'HR = 2.76(1.32,5.78)', p: 'Logrank<i>P</i> = 0.0049'});
km([330,423,488,556], {x: [330,486.7], xv: 200, y: [551,427.3]}, ticks50,
  {lowX: e2LowX, lowY: e2LowY, highX: e2HighX, highY: e2HighY, lowCX: e2LowCX, lowCY: e2LowCY, highCX: e2HighCX, highCY: e2HighCY, lowMark: '#333', highMark: '#e8222a'},
  {title: 'RFS', tx: 402.7, ty: 412, px: 296.7, py: 486.7, ex: 333.3, ey: 527, lx: 345.7, ly: 538.7, hy: 550.3, rx: 403.7, r1: 535.7, r2: 548.7, hr: 'HR = 1.38(0.98,1.94)', p: 'Logrank<i>P</i> = 0.061'});

/* ---------- F scatter with margins ---------- */
const fX = [7.79, 14.8], fY = [9.9, 17.56];
const meanX = 11.35, meanY = 13.4;
plot(582, 438, 752, 558, {l: 30, r: 2, t: 2, b: 18}, {
  type: 'line',
  data: {datasets: [
    {data: zip(fitX, fitY), borderColor: '#2222dd', borderWidth: 1.6, pointRadius: 0},
    {data: zip(fitX, fitHi), borderWidth: 0, pointRadius: 0, backgroundColor: 'rgba(170,170,170,.75)', fill: '+1'},
    {data: zip(fitX, fitLo), borderWidth: 0, pointRadius: 0},
    {data: zip(fX, [meanY, meanY]), borderColor: '#2fa58a', borderWidth: .8, borderDash: [2,2], pointRadius: 0},
    {data: [{x: meanX, y: fY[0]}, {x: meanX, y: fY[1]}], borderColor: '#d79ac4', borderWidth: 1, borderDash: [1.5,1.5], pointRadius: 0},
    {data: zip(olfml2a, cjun), showLine: false, pointRadius: 1.4, pointBackgroundColor: 'rgba(25,25,25,.62)', pointBorderWidth: 0}
  ]},
  options: {scales: {
    x: {type: 'linear', min: fX[0], max: fX[1], grid: {color: '#f1f1f1', tickColor: '#777', tickLength: 2}, border: {display: false},
      ticks: {stepSize: 2, includeBounds: false, color: '#222', padding: 1, maxRotation: 0, font: {family: SERIF, size: 13}}},
    y: {type: 'linear', min: fY[0], max: fY[1], grid: {color: '#f1f1f1', tickColor: '#777', tickLength: 2}, border: {display: false},
      ticks: {stepSize: 2, includeBounds: false, color: '#222', padding: 1, font: {family: SERIF, size: 13}}}
  }},
  plugins: [frame('#aaa')]
});
plot(582, 415, 752, 438, {l: 0, r: 0, t: 0, b: 0}, {
  type: 'bar',
  data: {datasets: [{data: zip(topBinX, topBinN), backgroundColor: '#bc5f9f', borderColor: '#9c4a86', borderWidth: .4, barThickness: 5.3}]},
  options: {scales: {x: {type: 'linear', offset: false, display: false, min: fX[0], max: fX[1]}, y: {display: false, min: 0, max: 70}}}
});
plot(752, 438, 784, 558, {l: 0, r: 0, t: 0, b: 0}, {
  type: 'bar',
  data: {datasets: [{data: zip(sideBinN, sideBinY), backgroundColor: '#0f9a6c', borderColor: '#0b7c56', borderWidth: .4, barThickness: 5.2}]},
  options: {indexAxis: 'y', scales: {y: {type: 'linear', offset: false, display: false, min: fY[0], max: fY[1]}, x: {display: false, min: 0, max: 96}}}
});
lab(661, 587, 'OLFML2A', 13, {align: 'center', italic: true});
lab(549, 502, 'c-jun', 14, {align: 'center', italic: true, rot: -90});
lab(668, 445, 'mean=11.35', 3.5, {align: 'center', color: '#c0609f', css: 'border:.5px solid #e0b0d0;background:#fff;padding:.5px 1px'});
lab(734, 503.5, 'mean=13.45', 3.5, {align: 'center', color: '#2fa58a', css: 'border:.5px solid #2fa58a;background:#fff;padding:.5px 1px;border-radius:1px'});

/* ---------- G/H tracks ---------- */
function track(x0, y0, x1, y1, xs, ys, top, name) {
  plot(x0, y0, x1, y1, {l: 28, r: 0, t: 5, b: 6}, {
    type: 'bar',
    data: {datasets: [{data: zip(xs, ys), backgroundColor: '#1a1aee', barThickness: 2, minBarLength: 1}]},
    options: {scales: {
      x: {type: 'linear', offset: false, display: false, min: 0, max: x1 - x0},
      y: {type: 'linear', min: 0, max: top,
        grid: {drawOnChartArea: false, color: '#888', tickLength: 3, tickColor: c => c.tick && c.tick.value == 0 ? 'rgba(0,0,0,0)' : '#888'},
        border: {color: '#888'},
        afterBuildTicks: s => { s.ticks = [{value: 0}, {value: top}]; },
        ticks: {color: '#333', padding: 3, autoSkip: false, font: {family: SERIF, size: 9}, callback: v => Number(v).toFixed(1)}}
    }}
  });
  lab(x0 + 6, y0 + 1, name, 10);
}
function geneTrack(x0, y0, x1, y1, span1, span2, utr, ex1, ex2) {
  const purple = '#7d1fb0';
  const lineAt = (sp, y) => sp.map(x => ({x: x, y: y}));
  plot(x0, y0, x1, y1, {l: 0, r: 0, t: 0, b: 0}, {
    type: 'line',
    data: {datasets: [
      {data: lineAt(ex1, 2), showLine: false, pointStyle: 'rect', pointRadius: 1.7, pointBackgroundColor: purple, pointBorderWidth: 0},
      {data: lineAt(ex2, 1), showLine: false, pointStyle: 'rect', pointRadius: 1.7, pointBackgroundColor: purple, pointBorderWidth: 0},
      {data: [{x: span1[0], y: 2}, {x: span2[0], y: 1}], showLine: false, pointStyle: 'triangle', rotation: -90, pointRadius: 2.2, pointBackgroundColor: purple, pointBorderWidth: 0},
      {data: lineAt(utr, 2), borderColor: purple, borderWidth: 2, pointRadius: 0},
      {data: lineAt(utr, 1), borderColor: purple, borderWidth: 2, pointRadius: 0},
      {data: lineAt(span1, 2), borderColor: purple, borderWidth: 2.2, borderDash: [1,4], pointRadius: 0},
      {data: lineAt(span2, 1), borderColor: purple, borderWidth: 2.2, borderDash: [1,4], pointRadius: 0},
      {data: lineAt(span1, 2), borderColor: '#a050c8', borderWidth: .8, pointRadius: 0},
      {data: lineAt(span2, 1), borderColor: '#a050c8', borderWidth: .8, pointRadius: 0}
    ]},
    options: {scales: {x: {type: 'linear', display: false, min: 0, max: x1 - x0}, y: {display: false, min: 0, max: 3}}}
  });
}
track(60, 631, 457, 664, fra1X, fra1Y, 5.2, 'Fra-1');
track(60, 681, 457, 715, cjunX, cjunY, 4, 'c-Jun');
geneTrack(60, 718, 457, 733, gGene1, gGene2, gUtr, gExons1, gExons2);
lab(450.7, 721, 'OLFML2A', 8, {bold: true, color: '#b04ab8'});
lab(450.7, 731, 'OLFML2A', 8, {bold: true, color: '#b04ab8'});
track(57, 769, 473, 803, h1X, h1Y, 1.7, 'c-Jun');
geneTrack(57, 805, 473, 820, hGene1, hGene2, hUtr, hExons1, hExons2);
lab(445.7, 810, 'OLFML2A', 8, {bold: true, color: '#b04ab8'});
lab(445.7, 820, 'OLFML2A', 8, {bold: true, color: '#b04ab8'});

/* ---------- I bars ---------- */
const errorBars = {id: 'errorBars', afterDatasetsDraw(ch) {
  const ctx = ch.ctx, sx = ch.scales.x, sy = ch.scales.y;
  ctx.save();
  ctx.strokeStyle = '#333';
  ctx.lineWidth = 1;
  barUpper.forEach((u, i) => {
    const x = sx.getPixelForValue(i), y0 = sy.getPixelForValue(barValues[i]), y1 = sy.getPixelForValue(u);
    ctx.beginPath();
    ctx.moveTo(x, y0); ctx.lineTo(x, y1);
    ctx.moveTo(x - 9, y1); ctx.lineTo(x + 9, y1);
    ctx.stroke();
  });
  ctx.restore();
}};
plot(570, 661, 752, 782, {l: 30, r: 4, t: 4, b: 24}, {
  type: 'bar',
  data: {datasets: [{
    data: barValues.map((v, i) => ({x: i, y: v})),
    backgroundColor: ['#fff', '#9b9ba0', '#000'],
    borderColor: ['#333', '#9b9ba0', '#000'],
    borderWidth: 1,
    barThickness: 36
  }]},
  options: {scales: {
    x: {type: 'linear', offset: false, min: -.672, max: 2.66, grid: {offset: false, drawOnChartArea: false, color: '#333', tickLength: 4}, border: {color: '#333', width: 1.2},
      afterBuildTicks: s => { s.ticks = barLabels.map((l, i) => ({value: i})); },
      ticks: {color: '#222', padding: 3, maxRotation: 0, autoSkip: false, font: {family: SERIF, size: 13}, callback: v => barLabels[v]}},
    y: {type: 'linear', min: 0, max: 5, grid: {drawOnChartArea: false, color: '#333', tickLength: 4}, border: {color: '#333', width: 1.2},
      ticks: {stepSize: 1, color: '#222', padding: 3, font: {family: SERIF, size: 13}}}
  }},
  plugins: [errorBars]
});
lab(550, 720, 'Fold Change', 13.5, {align: 'center', rot: -90});
lab(715.7, 654, '**', 12, {align: 'center'});
</script>
</body>
</html>
